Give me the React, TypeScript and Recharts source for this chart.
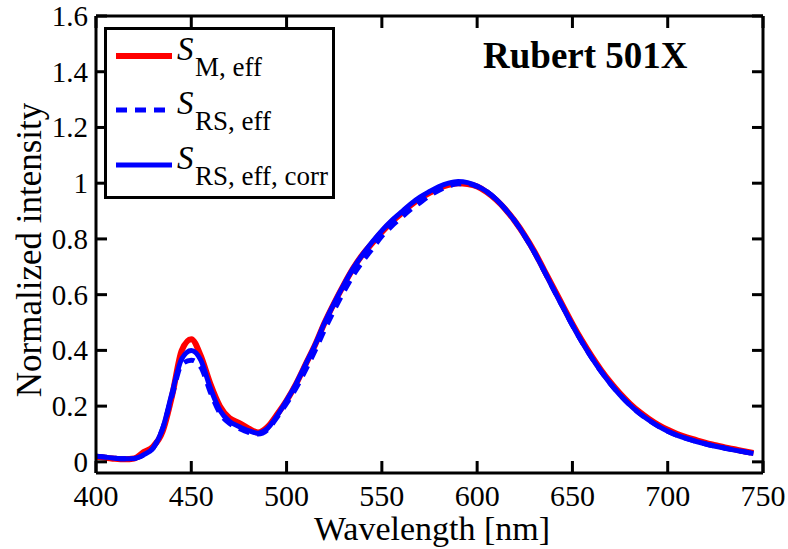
import { Line, LineChart, XAxis, YAxis } from "recharts";

const wavelength = [
  400, 405, 410, 415, 420, 425, 430, 435, 440, 445, 450, 455, 460, 465, 470,
  475, 480, 485, 490, 495, 500, 505, 510, 515, 520, 525, 530, 535, 540, 545,
  550, 555, 560, 565, 570, 575, 580, 585, 590, 595, 600, 605, 610, 615, 620,
  625, 630, 635, 640, 645, 650, 655, 660, 665, 670, 675, 680, 685, 690, 695,
  700, 705, 710, 715, 720, 725, 730, 735, 740, 745,
];

const sMeff = [
  0.018, 0.015, 0.011, 0.009, 0.012, 0.035, 0.055, 0.11, 0.24, 0.4, 0.44,
  0.38, 0.28, 0.2, 0.157, 0.14, 0.12, 0.105, 0.125, 0.17, 0.22, 0.28, 0.35,
  0.42, 0.5, 0.57, 0.635, 0.695, 0.745, 0.785, 0.825, 0.86, 0.89, 0.92, 0.945,
  0.965, 0.982, 0.994, 1.0, 0.997, 0.988, 0.968, 0.94, 0.905, 0.862, 0.812,
  0.755, 0.69, 0.625, 0.56, 0.495, 0.435, 0.38, 0.33, 0.285, 0.245, 0.21,
  0.18, 0.155, 0.133, 0.115, 0.1, 0.088, 0.078, 0.068, 0.06, 0.052, 0.045,
  0.038, 0.032,
];

const sRSeff = [
  0.02, 0.017, 0.013, 0.011, 0.012, 0.025, 0.05, 0.12, 0.24, 0.35, 0.365,
  0.34, 0.25, 0.175, 0.138, 0.12, 0.106, 0.1, 0.115, 0.16, 0.21, 0.265, 0.33,
  0.4, 0.475, 0.545, 0.61, 0.67, 0.72, 0.765, 0.81, 0.845, 0.875, 0.905, 0.93,
  0.955, 0.975, 0.99, 0.998, 0.998, 0.988, 0.97, 0.942, 0.905, 0.862, 0.81,
  0.752, 0.687, 0.62, 0.555, 0.49, 0.43, 0.375, 0.325, 0.28, 0.24, 0.205,
  0.175, 0.15, 0.128, 0.11, 0.095, 0.083, 0.073, 0.064, 0.056, 0.049, 0.042,
  0.036, 0.03,
];

const sRSeffCorr = [
  0.02, 0.017, 0.013, 0.011, 0.012, 0.025, 0.05, 0.12, 0.25, 0.37, 0.4,
  0.365, 0.265, 0.185, 0.145, 0.127, 0.112, 0.103, 0.12, 0.165, 0.22, 0.28,
  0.35, 0.42, 0.5, 0.57, 0.635, 0.695, 0.745, 0.79, 0.83, 0.865, 0.895, 0.925,
  0.95, 0.97, 0.988, 1.0, 1.006, 1.002, 0.99, 0.97, 0.942, 0.905, 0.862, 0.81,
  0.752, 0.687, 0.62, 0.555, 0.49, 0.43, 0.375, 0.325, 0.28, 0.24, 0.205,
  0.175, 0.15, 0.128, 0.11, 0.095, 0.083, 0.073, 0.064, 0.056, 0.049, 0.042,
  0.036, 0.03,
];

const xTicks = [400, 450, 500, 550, 600, 650, 700, 750];
const yTicks = [0, 0.2, 0.4, 0.6, 0.8, 1, 1.2, 1.4, 1.6];

const data = wavelength.map((w, i) => ({
  w,
  m: sMeff[i],
  rs: sRSeff[i],
  corr: sRSeffCorr[i],
}));

const FONT = '"Liberation Serif", "Times New Roman", serif';

// axis sizes; margins below are reduced by the same amount
const AX = 10;

function BottomTick(props: any) {
  const { x, y, payload } = props;
  return (
    <g>
      <line x1={x} y1={y} x2={x} y2={y - 12} stroke="#000" strokeWidth={3} />
      <text x={x} y={y + 33} textAnchor="middle" fontSize={30} fontFamily={FONT} fill="#000">
        {payload.value}
      </text>
    </g>
  );
}

function TopTick(props: any) {
  const { x, y } = props;
  return <line x1={x} y1={y} x2={x} y2={y + 12} stroke="#000" strokeWidth={3} />;
}

function LeftTick(props: any) {
  const { x, y, payload } = props;
  return (
    <g>
      <line x1={x} y1={y} x2={x + 11} y2={y} stroke="#000" strokeWidth={3} />
      <text x={x - 8} y={y + 10} textAnchor="end" fontSize={29} fontFamily={FONT} fill="#000">
        {String(payload.value)}
      </text>
    </g>
  );
}

function RightTick(props: any) {
  const { x, y } = props;
  return <line x1={x} y1={y} x2={x - 11} y2={y} stroke="#000" strokeWidth={3} />;
}

function LegendBox({ x, y }: { x: number; y: number }) {
  const rows = [
    { sub: "M, eff", color: "#ff0000", dash: undefined, y: 29 },
    { sub: "RS, eff", color: "#0000ff", dash: "11 8", y: 83 },
    { sub: "RS, eff, corr", color: "#0000ff", dash: undefined, y: 138 },
  ];
  return (
    <g transform={`translate(${x}, ${y})`}>
      <rect x={1.5} y={1.5} width={228} height={169} fill="#fff" stroke="#000" strokeWidth={3} />
      {rows.map((r) => (
        <g key={r.sub}>
          <line x1={12} y1={r.y} x2={68} y2={r.y} stroke={r.color} strokeWidth={r.sub === "M, eff" ? 6 : 5} strokeDasharray={r.dash} />
          <text x={73} y={r.y + 4} fontSize={33} fontStyle="italic" fontFamily={FONT} fill="#000">
            S
          </text>
          <text x={91} y={r.y + 20} fontSize={27} fontFamily={FONT} fill="#000">
            {r.sub}
          </text>
        </g>
      ))}
    </g>
  );
}

export default function App() {
  return (
    <div style={{ position: "fixed", left: 0, top: 0, background: "#fff" }}>
      <LineChart
        width={788}
        height={549}
        data={data}
        margin={{ top: 16 - AX, right: 25 - AX, bottom: 76 - AX, left: 96 - AX }}
      >
        <XAxis
          xAxisId="bottom"
          dataKey="w"
          type="number"
          domain={[400, 750]}
          ticks={xTicks}
          height={AX}
          tickSize={0}
          tickMargin={0}
          tickLine={false}
          axisLine={{ stroke: "#000", strokeWidth: 3 }}
          tick={<BottomTick />}
          interval={0}
        />
        <XAxis
          xAxisId="top"
          orientation="top"
          dataKey="w"
          type="number"
          domain={[400, 750]}
          ticks={xTicks}
          height={AX}
          tickSize={0}
          tickMargin={0}
          tickLine={false}
          axisLine={{ stroke: "#000", strokeWidth: 3 }}
          tick={<TopTick />}
          interval={0}
        />
        <YAxis
          yAxisId="left"
          type="number"
          domain={[-0.04, 1.6]}
          ticks={yTicks}
          width={AX}
          tickSize={0}
          tickMargin={0}
          tickLine={false}
          axisLine={{ stroke: "#000", strokeWidth: 3 }}
          tick={<LeftTick />}
          interval={0}
          allowDataOverflow
        />
        <YAxis
          yAxisId="right"
          orientation="right"
          type="number"
          domain={[-0.04, 1.6]}
          ticks={yTicks}
          width={AX}
          tickSize={0}
          tickMargin={0}
          tickLine={false}
          axisLine={{ stroke: "#000", strokeWidth: 3 }}
          tick={<RightTick />}
          interval={0}
          allowDataOverflow
        />
        <Line
          xAxisId="bottom"
          yAxisId="left"
          type="monotone"
          dataKey="m"
          stroke="#ff0000"
          strokeWidth={6}
          dot={false}
          isAnimationActive={false}
        />
        <Line
          xAxisId="bottom"
          yAxisId="left"
          type="monotone"
          dataKey="rs"
          stroke="#0000ff"
          strokeWidth={5}
          strokeDasharray="11 8"
          dot={false}
          isAnimationActive={false}
        />
        <Line
          xAxisId="bottom"
          yAxisId="left"
          type="monotone"
          dataKey="corr"
          stroke="#0000ff"
          strokeWidth={5}
          dot={false}
          isAnimationActive={false}
        />
        <LegendBox x={104} y={27} />
        <text x={483} y={68} fontSize={37} fontWeight="bold" fontFamily={FONT} fill="#000">
          Rubert 501X
        </text>
        <text x={432} y={540} textAnchor="middle" fontSize={34} fontFamily={FONT} fill="#000">
          Wavelength [nm]
        </text>
        <text
          x={41}
          y={250}
          textAnchor="middle"
          fontSize={35}
          fontFamily={FONT}
          fill="#000"
          transform="rotate(-90, 41, 250)"
        >
          Normalized intensity
        </text>
      </LineChart>
    </div>
  );
}
